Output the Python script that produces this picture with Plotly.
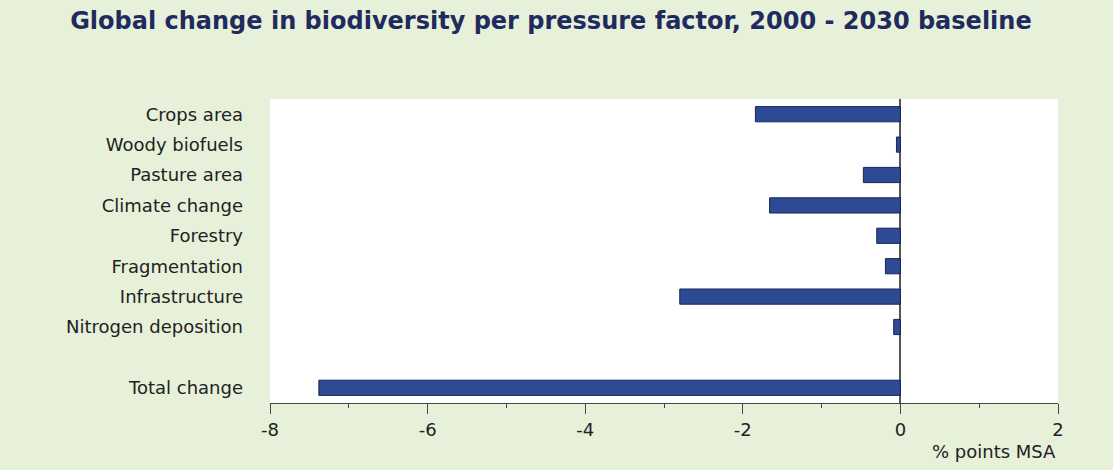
import plotly.graph_objects as go

# Pressure factors and their change in mean species abundance (% points MSA)
factors = ["Crops area", "Woody biofuels", "Pasture area", "Climate change",
           "Forestry", "Fragmentation", "Infrastructure", "Nitrogen deposition",
           "Total change"]
msa_change = [-1.84, -0.05, -0.47, -1.66, -0.30, -0.19, -2.80, -0.085, -7.38]
# row slots: a gap is left before the total
row_pos = [0, 1, 2, 3, 4, 5, 6, 7, 9]

x_ticks = [-8, -6, -4, -2, 0, 2]
x_ticklabels = ["-8", "-6", "-4", "-2", "0", "2"]

FONT = "DejaVu Sans, Liberation Sans, Arial, sans-serif"
TEXT = "#222222"

fig = go.Figure(go.Bar(
    x=msa_change,
    y=row_pos,
    orientation="h",
    width=0.5,
    marker=dict(color="#2D4A94", line=dict(color="#1B2452", width=1)),
    hoverinfo="x",
))

fig.update_layout(
    width=1113, height=470,
    paper_bgcolor="#E7F0D9",
    plot_bgcolor="#FFFFFF",
    margin=dict(l=270, r=55, t=99, b=67),
    showlegend=False,
    font=dict(family=FONT, size=18, color=TEXT),
    title=dict(
        text="<b>Global change in biodiversity per pressure factor, 2000 - 2030 baseline</b>",
        x=0.495, xanchor="center", y=0.957, yanchor="middle",
        font=dict(family=FONT, size=24, color="#1F2A5E"),
    ),
    xaxis=dict(
        range=[-8, 2],
        tickvals=x_ticks, ticktext=x_ticklabels,
        ticks="outside", ticklen=10, tickwidth=1.2, tickcolor="#444444",
        minor=dict(dtick=1, ticks="outside", ticklen=4, tickwidth=1.2, tickcolor="#444444"),
        showline=True, linecolor="#444444", linewidth=1.2,
        showgrid=False,
        zeroline=True, zerolinecolor="#555555", zerolinewidth=1.5,
        tickfont=dict(family=FONT, size=18, color=TEXT),
    ),
    yaxis=dict(
        range=[9.5, -0.5],
        tickvals=row_pos, ticktext=factors,
        showgrid=False, zeroline=False, showline=False,
        ticks="", ticklabelstandoff=26,
        tickfont=dict(family=FONT, size=18, color=TEXT),
    ),
    annotations=[dict(
        text="% points MSA", xref="paper", yref="paper",
        x=1.0, y=-0.161, xanchor="right", yanchor="middle",
        showarrow=False, font=dict(family=FONT, size=18, color=TEXT),
    )],
)

fig.write_html("out.html")
